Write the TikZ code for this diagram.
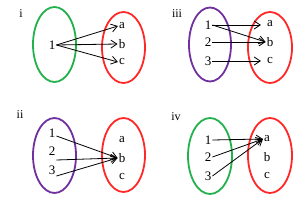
\documentclass[tikz,border=0pt]{standalone}
\usepackage{fontspec}
\setmainfont{Liberation Serif}
\usetikzlibrary{arrows.meta}
\definecolor{eg}{RGB}{34,177,76}
\definecolor{er}{RGB}{255,40,40}
\definecolor{ep}{RGB}{112,48,160}
\begin{document}
\begin{tikzpicture}[x=1pt,y=-1pt,
  lab/.style={inner sep=1pt,font=\fontsize{13}{15}\selectfont},
  ttl/.style={inner sep=0pt,font=\fontsize{12}{14}\selectfont},
  ell/.style={line width=1.8pt},
  arr/.style={-{Straight Barb[length=6pt,width=8pt]},line width=0.8pt}]
\useasboundingbox (0,0) rectangle (300,203);
% panel i
\node[ttl] (ti) at (21,14) {i};
\draw[ell,eg] (54.5,44.5) ellipse [x radius=21.5, y radius=37.5];
\draw[ell,er] (123.5,47.5) ellipse [x radius=21.5, y radius=35.5];
\node[lab] (i1) at (52,45) {1};
\node[lab] (ia) at (122,26) {a};
\node[lab] (ib) at (122,44) {b};
\node[lab] (ic) at (122,62) {c};
\draw[arr] (i1.east) -- (ia.west);
\draw[arr] (i1.east) -- (ib.west);
\draw[arr] (i1.east) -- (ic.west);
% panel iii
\node[ttl] (tiii) at (177,14) {iii};
\draw[ell,ep] (210,44.5) ellipse [x radius=21, y radius=37];
\draw[ell,er] (270,47.5) ellipse [x radius=22, y radius=35.5];
\node[lab] (iii1) at (208,25) {1};
\node[lab] (iii2) at (208,42) {2};
\node[lab] (iii3) at (208,61) {3};
\node[lab] (iiia) at (270,24) {a};
\node[lab] (iiib) at (270,42) {b};
\node[lab] (iiic) at (270,61) {c};
\draw[arr] (iii1.east) -- ([xshift=-5pt]iiia.west|-iii1.east);
\draw[arr] (iii1.east) -- (iiib.west);
\draw[arr] (iii2.east) -- (iiib.west);
\draw[arr] (iii3.east) -- ([xshift=-5pt]iiic.west|-iii3.east);
% panel ii
\node[ttl] (tii) at (20,115) {ii};
\draw[ell,ep] (54.5,155.5) ellipse [x radius=21.5, y radius=37.5];
\draw[ell,er] (123.5,155) ellipse [x radius=21.5, y radius=37];
\node[lab] (ii1) at (52,133) {1};
\node[lab] (ii2) at (52,151) {2};
\node[lab] (ii3) at (52,170) {3};
\node[lab] (iia) at (122,140) {a};
\node[lab] (iib) at (122,158) {b};
\node[lab] (iic) at (122,177) {c};
\draw[arr] ([yshift=-3pt]ii1.east) -- (iib.west);
\draw[arr] ([yshift=-9pt]ii2.east) -- (iib.west);
\draw[arr] ([yshift=-6pt]ii3.east) -- (iib.west);
% panel iv
\node[ttl] (tiv) at (176,117) {iv};
\draw[ell,eg] (210,156) ellipse [x radius=22, y radius=38];
\draw[ell,er] (270,155.5) ellipse [x radius=22, y radius=37.5];
\node[lab] (iv1) at (208,140) {1};
\node[lab] (iv2) at (208,157) {2};
\node[lab] (iv3) at (208,176) {3};
\node[lab] (iva) at (267,139) {a};
\node[lab] (ivb) at (267,157) {b};
\node[lab] (ivc) at (267,176) {c};
\draw[arr] (iv1.east) -- (iva.west);
\draw[arr] (iv2.east) -- (iva.west);
\draw[arr] (iv3.east) -- (iva.west);
\end{tikzpicture}
\end{document}
